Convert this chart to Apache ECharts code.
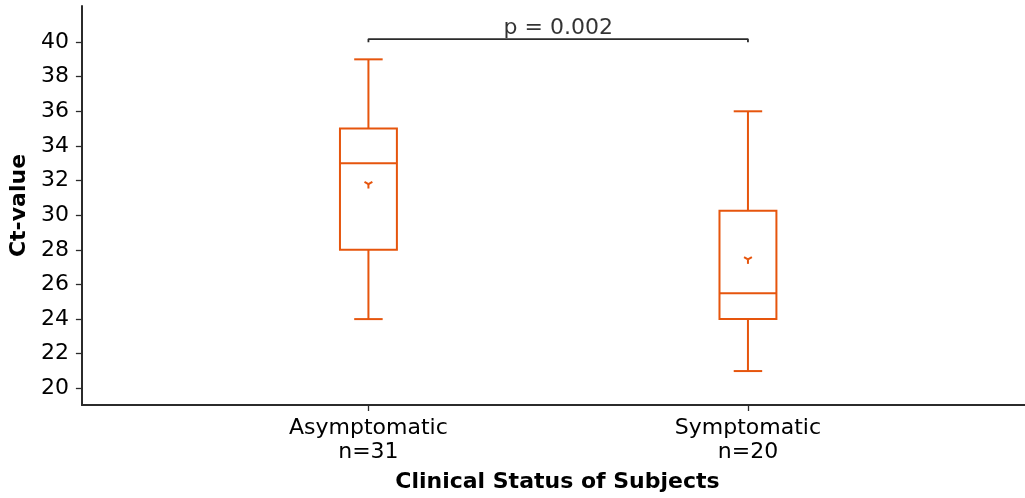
<!DOCTYPE html>
<html>
<head>
<meta charset="utf-8">
<script src="https://cdn.jsdelivr.net/npm/echarts@6/dist/echarts.min.js"></script>
<style>
  html, body { margin: 0; padding: 0; background: #fff; }
</style>
</head>
<body>
<div id="main" style="width: 1025px; height: 498px;"></div>
<script>
// data
const categories = ['Asymptomatic\nn=31', 'Symptomatic\nn=20'];
const positions = [1, 2];
const whiskerLow = [24, 21];
const q1 = [28, 24];
const medians = [33, 25.5];
const q3 = [35, 30.25];
const whiskerHigh = [39, 36];
const means = [31.8, 27.45];
const yTicks = [20, 22, 24, 26, 28, 30, 32, 34, 36, 38, 40];
const pValueText = 'p = 0.002';
const bracketTop = 40.17;
const bracketFoot = 39.98;

const orange = '#E6550D';
const ink = '#2b2b2b';
const font = 'DejaVu Sans';

// one row per box: [pos, min, Q1, median, Q3, max, mean]
const boxRows = positions.map(function (p, i) {
  return [p, whiskerLow[i], q1[i], medians[i], q3[i], whiskerHigh[i], means[i]];
});

const bracket = [
  [positions[0], bracketFoot],
  [positions[0], bracketTop],
  [positions[1], bracketTop],
  [positions[1], bracketFoot]
];

let myChart = echarts.init(document.getElementById('main'));

var option = {
  animation: false,
  grid: { left: 80, right: 0, top: 6, bottom: 93 },
  xAxis: {
    type: 'value',
    min: 0.245,
    max: 2.73,
    name: 'Clinical Status of Subjects',
    nameLocation: 'middle',
    nameGap: 66,
    nameTextStyle: { fontFamily: font, fontSize: 22, fontWeight: 'bold', color: '#000', padding: [0, 0, 0, 8] },
    axisLine: { show: true, lineStyle: { color: ink, width: 2 } },
    axisTick: { show: true, length: 6, customValues: positions, lineStyle: { color: ink, width: 1.3 } },
    axisLabel: {
      customValues: positions,
      margin: 11,
      fontFamily: font,
      fontSize: 22,
      lineHeight: 24.5,
      color: '#000',
      align: 'center',
      formatter: function (v) { return categories[Math.round(v) - 1]; }
    },
    splitLine: { show: false }
  },
  yAxis: {
    type: 'value',
    min: 19.04,
    max: 42.08,
    name: 'Ct-value',
    nameLocation: 'middle',
    nameRotate: 90,
    nameGap: 51,
    nameTextStyle: { fontFamily: font, fontSize: 22, fontWeight: 'bold', color: '#000' },
    axisLine: { show: true, lineStyle: { color: ink, width: 2 } },
    axisTick: { show: true, length: 6, customValues: yTicks, lineStyle: { color: ink, width: 1.3 } },
    axisLabel: {
      customValues: yTicks,
      margin: 13,
      fontFamily: font,
      fontSize: 22,
      color: '#000'
    },
    splitLine: { show: false }
  },
  series: [
    {
      type: 'custom',
      data: boxRows,
      encode: { x: 0, y: [1, 2, 3, 4, 5, 6] },
      renderItem: function (params, api) {
        var x = api.value(0);
        var half = api.size([0.15, 0])[0] / 2;
        var capHalf = half / 2;
        var pMin = api.coord([x, api.value(1)]);
        var pQ1 = api.coord([x, api.value(2)]);
        var pMed = api.coord([x, api.value(3)]);
        var pQ3 = api.coord([x, api.value(4)]);
        var pMax = api.coord([x, api.value(5)]);
        var pMean = api.coord([x, api.value(6)]);
        var cx = pMed[0];
        var st = { stroke: orange, lineWidth: 2, fill: null };
        function seg(x1, y1, x2, y2) {
          return { type: 'line', shape: { x1: x1, y1: y1, x2: x2, y2: y2 }, style: st };
        }
        var m = 4.5;
        return {
          type: 'group',
          children: [
            { type: 'rect', shape: { x: cx - half, y: pQ3[1], width: half * 2, height: pQ1[1] - pQ3[1] }, style: st },
            seg(cx - half, pMed[1], cx + half, pMed[1]),
            seg(cx, pQ3[1], cx, pMax[1]),
            seg(cx, pQ1[1], cx, pMin[1]),
            seg(cx - capHalf, pMax[1], cx + capHalf, pMax[1]),
            seg(cx - capHalf, pMin[1], cx + capHalf, pMin[1]),
            // tri_down mean marker
            seg(pMean[0], pMean[1], pMean[0], pMean[1] + m),
            seg(pMean[0], pMean[1], pMean[0] - m * 0.87, pMean[1] - m * 0.5),
            seg(pMean[0], pMean[1], pMean[0] + m * 0.87, pMean[1] - m * 0.5)
          ]
        };
      },
      z: 3
    },
    {
      type: 'line',
      data: bracket,
      symbol: 'none',
      lineStyle: { color: ink, width: 1.8 },
      silent: true
    },
    {
      type: 'scatter',
      data: [[(positions[0] + positions[1]) / 2, bracketTop]],
      symbolSize: 0,
      label: {
        show: true,
        position: 'top',
        distance: 0,
        formatter: pValueText,
        fontFamily: font,
        fontSize: 22,
        color: '#000'
      },
      silent: true
    }
  ]
};

myChart.setOption(option);
</script>
</body>
</html>
